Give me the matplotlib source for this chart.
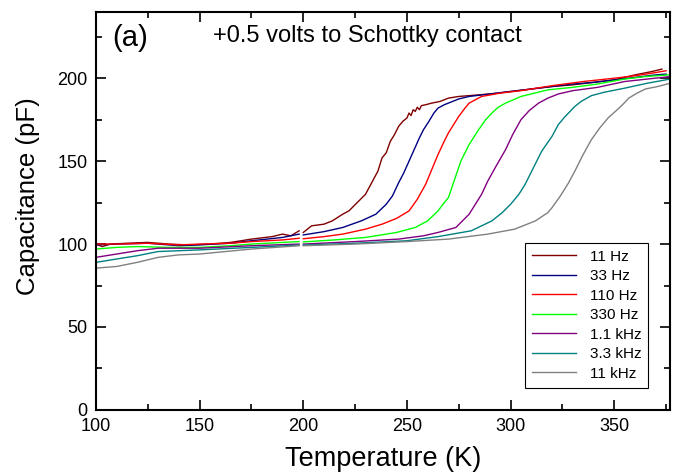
import numpy as np
import matplotlib
matplotlib.use("Agg")
from matplotlib import pyplot as plt
from matplotlib.ticker import MultipleLocator

plt.rcParams['font.family'] = ['Liberation Sans', 'DejaVu Sans']

# ---------------------------------------------------------------------
# Données : T (K), C (pF) ; nan = coupure vers 199 K
# ---------------------------------------------------------------------
nan = np.nan

t_11hz = [100, 103, 107, 115, 125, 135, 145, 155, 165, 175, 185, 190, 194, 198, 199,
          200, 204, 210, 214, 219, 222, 226, 230, 233, 236, 238, 240, 242, 244, 246,
          248, 250, 251, 252, 253, 254, 255, 256, 257, 259, 262, 266, 270, 275, 280,
          290, 300, 310, 320, 330, 340, 350, 360, 368, 373]
c_11hz = [100, 98.5, 100, 100.5, 101, 100, 99.5, 100, 101, 103, 104.5, 106, 105, 108, nan,
          107, 111, 112, 114, 118, 120, 125, 130, 137, 144, 152, 155, 162, 166, 171,
          174, 176, 179, 177.5, 181, 180, 182.5, 181, 183.5, 184, 185, 186, 188, 189, 189.5,
          190.5, 192, 193.5, 195, 196, 197.5, 199, 202, 204, 205.5]

t_33hz = [100, 110, 125, 140, 150, 165, 175, 190, 198, 199, 200, 210, 219, 228, 235, 240,
          243, 246, 248.5, 251, 253.5, 256, 258, 260.6, 263, 265, 268, 270, 275, 280,
          290, 300, 310, 320, 330, 340, 350, 360, 370, 375]
c_33hz = [99.5, 100, 100.5, 99, 99.5, 100.5, 102, 104, 106, nan, 105.5, 107.5, 110, 114, 118, 124,
          129, 137, 143, 150, 157, 164, 169, 174, 179, 182, 184, 185, 187.5, 189,
          190.5, 192, 193.5, 195, 196.5, 197.5, 199, 200.5, 202, 202.5]

t_110hz = [100, 110, 125, 140, 150, 165, 175, 190, 198, 199, 200, 210, 219, 230, 238, 245,
           251, 255, 259, 262, 265, 268, 270, 273, 275, 278, 280, 286, 295, 305, 320,
           335, 350, 360, 368, 375]
c_110hz = [100, 100, 100.5, 99.5, 100, 100.5, 101.5, 102.5, 103.5, nan, 103.2, 104.5, 106, 109, 112, 115.5,
           120, 127, 136, 145, 154, 162, 167, 173, 177, 182, 185, 189, 191, 192.5, 195.5,
           198, 200, 201.5, 203, 204.5]

t_330hz = [100, 110, 120, 135, 150, 165, 175, 190, 198, 199, 200, 215, 230, 245, 254, 260,
           265, 268, 270, 273, 276, 280, 284.6, 288, 291, 294, 297.6, 305, 318, 330,
           342, 355, 365, 376]
c_330hz = [97, 98, 98.5, 98, 98, 99, 100, 101, 101.5, nan, 101.3, 102.5, 104, 107, 110, 114,
           120, 125, 128, 139, 150, 160, 169, 175, 179, 182.5, 185, 189, 193, 194.5,
           196.5, 199.5, 201, 202]

t_1k1 = [100, 105, 110, 120, 130, 150, 175, 198, 199, 200, 225, 246, 258, 265, 273.6, 280,
         283, 286, 289, 293, 297.6, 301, 305, 309, 313.5, 318, 323, 330, 342, 355,
         366, 377]
c_1k1 = [92, 93, 94, 96, 97.5, 97.5, 99, 100, nan, 100, 101.5, 103, 105, 107, 110, 118,
         124, 130, 138, 147, 157, 166, 175, 180.5, 185, 188, 190.5, 192.5, 194.5, 198,
         199.5, 201]

t_3k3 = [100, 105, 110, 120, 130, 140, 150, 175, 198, 199, 200, 225, 250, 265, 281, 291,
         296, 300, 304, 307, 311, 315, 320, 323, 326, 331, 334, 339, 345, 355,
         366, 377]
c_3k3 = [89, 90, 91, 93, 95.5, 96, 96.5, 98, 99.4, nan, 99.4, 100.5, 102, 104.5, 108, 114,
         119, 124, 130, 136, 146, 156, 165, 172, 176.5, 183, 186, 189.5, 191.5, 194,
         197, 199.5]

t_11k = [100, 105, 110, 120, 130, 140, 150, 175, 198, 199, 200, 225, 250, 270, 289, 302,
         312, 318, 320, 324, 328, 331, 335, 339, 343, 347, 351, 354, 357, 361,
         365, 371, 377]
c_11k = [85.5, 86, 86.5, 89, 92, 93.5, 94, 97, 99, nan, 99, 100, 101.5, 103, 106, 109,
         114, 119, 122, 129, 137, 144, 154, 163, 170, 176, 180.5, 184, 188, 191,
         193.5, 195, 197]

series = [
    ("11 Hz", t_11hz, c_11hz, "#800000"),
    ("33 Hz", t_33hz, c_33hz, "#000080"),
    ("110 Hz", t_110hz, c_110hz, "#ff0000"),
    ("330 Hz", t_330hz, c_330hz, "#00ff00"),
    ("1.1 kHz", t_1k1, c_1k1, "#800080"),
    ("3.3 kHz", t_3k3, c_3k3, "#008080"),
    ("11 kHz", t_11k, c_11k, "#808080"),
]

# ---------------------------------------------------------------------
# Tracé
# ---------------------------------------------------------------------
fig = plt.figure(figsize=(6.74, 4.75), dpi=100)
ax = fig.add_axes([0.1424, 0.137, 0.852, 0.838])

for nom, t, c, couleur in series:
    ax.plot(t, c, color=couleur, lw=1.0, label=nom)

ax.set_xlim(100, 377)
ax.set_ylim(0, 240)
ax.xaxis.set_major_locator(MultipleLocator(50))
ax.xaxis.set_minor_locator(MultipleLocator(25))
ax.yaxis.set_minor_locator(MultipleLocator(25))
ax.set_yticks([0, 50, 100, 150, 200])
ax.tick_params(which='both', direction='in', top=True, right=True, labelsize=13, width=1.2)
ax.tick_params(which='major', length=7)
ax.tick_params(which='minor', length=4)
ax.tick_params(axis='x', pad=6)
ax.tick_params(axis='y', pad=6)
for s in ax.spines.values():
    s.set_linewidth(1.5)

ax.set_xlabel("Temperature (K)", fontsize=19.5, labelpad=8)
ax.set_ylabel("Capacitance (pF)", fontsize=18.5)
ax.yaxis.set_label_coords(-0.098, 0.538)

ax.text(0.028, 0.915, "(a)", transform=ax.transAxes, fontsize=21)
ax.text(0.203, 0.925, "+0.5 volts to Schottky contact", transform=ax.transAxes, fontsize=17)

leg = ax.legend(loc='lower right', bbox_to_anchor=(0.975, 0.037), fontsize=11,
                handlelength=2.9, labelspacing=0.36, fancybox=False, framealpha=1,
                borderpad=0.45, handletextpad=0.9)
leg.get_frame().set_edgecolor('black')
leg.get_frame().set_linewidth(0.8)

plt.savefig("out.png", dpi=100)
plt.close()
